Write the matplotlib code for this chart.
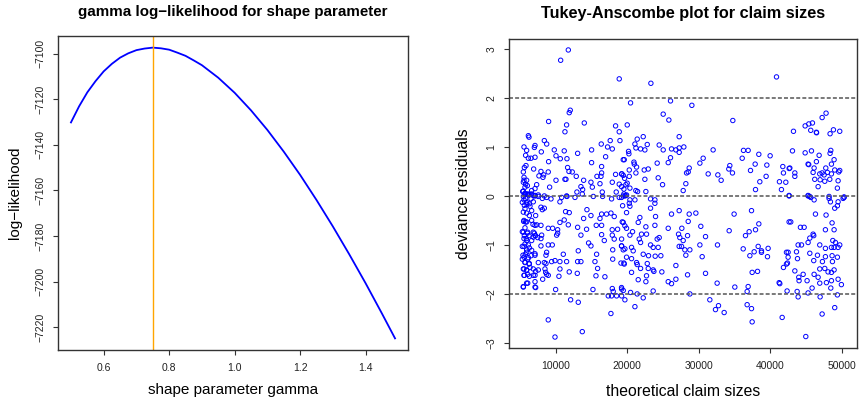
import matplotlib
matplotlib.use("Agg")
import matplotlib.pyplot as plt

plt.rcParams['font.family'] = ['Liberation Sans', 'DejaVu Sans']

# profile log-likelihood of the gamma shape parameter
shape_grid = [0.50, 0.525, 0.55, 0.575, 0.60, 0.625, 0.65, 0.675, 0.70, 0.725, 0.75,
              0.775, 0.80, 0.825, 0.85, 0.875, 0.90, 0.95, 1.00, 1.05, 1.10, 1.15,
              1.20, 1.25, 1.30, 1.35, 1.40, 1.45, 1.49]
loglik = [-7130.2, -7123.1, -7117.0, -7112.1, -7107.8, -7104.5, -7101.8, -7099.9,
          -7098.5, -7097.8, -7097.4, -7097.7, -7098.3, -7099.6, -7101.0, -7103.0,
          -7105.1, -7110.6, -7117.2, -7124.9, -7133.5, -7143.0, -7153.2, -7164.2,
          -7175.8, -7188.0, -7200.7, -7214.0, -7224.9]
shape_mle = 0.75

# Tukey-Anscombe points: fitted claim size, deviance residual
claim_pts = [
    (11770, 2.99), (10700, 2.78), (18880, 2.40), (12040, 1.76), (11900, 1.71), (9020, 1.53),
    (14000, 1.50), (11530, 1.46), (11300, 1.32), (18370, 1.44), (18880, 1.32), (6190, 1.24),
    (6280, 1.21), (8420, 1.14), (8750, 1.07), (7120, 1.04), (7030, 1.00), (5580, 1.01),
    (5950, 0.94), (8000, 0.91), (9810, 0.95), (11200, 0.93), (13070, 0.88), (15020, 0.95),
    (16370, 1.07), (17620, 1.14), (17250, 1.01), (17910, 0.97), (18980, 1.14), (16980, 0.81),
    (10050, 0.83), (5810, 0.84), (7120, 0.80), (6190, 0.78), (6560, 0.78), (10650, 0.77),
    (11580, 0.77), (9020, 0.71), (15020, 0.69), (19440, 0.75), (5860, 0.63), (5630, 0.59),
    (6930, 0.56), (11670, 0.59), (11860, 0.51), (12320, 0.50), (7950, 0.51), (8970, 0.50),
    (16420, 0.61), (16420, 0.48), (18370, 0.45), (19210, 0.46), (5490, 0.50), (8330, 0.44),
    (8230, 0.39), (11300, 0.35), (11440, 0.35), (12880, 0.41), (10050, 0.33), (13910, 0.33),
    (15770, 0.41), (16330, 0.41), (5580, 0.33), (5810, 0.25), (7350, 0.24), (7670, 0.42),
    (14930, 0.29), (16190, 0.26), (17910, 0.29), (18880, 0.25), (19440, 0.43), (13530, 0.20),
    (13770, 0.14), (15120, 0.19), (16510, 0.09), (12970, 0.09), (18460, 0.09), (9160, 0.19),
    (7120, 0.16), (6650, 0.12), (5400, 0.10), (5700, 0.06), (6100, 0.05), (6400, 0.04),
    (11530, 0.01), (7580, 0.03), (8420, 0.01),
    (23300, 2.31), (20460, 1.91), (26040, 1.95), (29020, 1.86), (25020, 1.68), (25810, 1.56),
    (34740, 1.55), (20000, 1.46), (27250, 1.22), (22230, 1.22), (21390, 1.17), (21070, 1.07),
    (22790, 1.06), (24460, 1.05), (21210, 0.99), (21860, 0.97), (22460, 0.95), (25020, 0.95),
    (26180, 0.97), (26790, 0.95), (27250, 0.99), (27900, 1.01), (31990, 0.95), (27250, 0.90),
    (20180, 0.92), (20230, 0.87), (19580, 0.75), (26040, 0.79), (20930, 0.70), (20980, 0.66),
    (21300, 0.60), (24180, 0.68), (25720, 0.69), (30600, 0.78), (30140, 0.68), (20280, 0.54),
    (22930, 0.56), (22370, 0.54), (28650, 0.58), (28510, 0.50), (28280, 0.48), (21210, 0.48),
    (34320, 0.63), (34180, 0.56), (34690, 0.48), (31300, 0.46), (32650, 0.44), (33110, 0.33),
    (19250, 0.46), (20280, 0.41), (19630, 0.37), (22460, 0.35), (24320, 0.38), (28180, 0.26),
    (24930, 0.24), (19990, 0.27), (19810, 0.24), (19200, 0.20), (20370, 0.17), (19530, 0.15),
    (27810, 0.12), (21440, 0.10), (22600, 0.10), (19900, 0.03), (19670, 0.01), (21200, 0.12),
    (40840, 2.44), (47760, 1.70), (47210, 1.61), (45860, 1.50), (45350, 1.48), (44840, 1.44),
    (43210, 1.33), (45620, 1.35), (46410, 1.31), (46430, 1.30), (48790, 1.36), (49670, 1.33),
    (48320, 1.28), (36230, 0.94), (36880, 0.94), (36050, 0.78), (38370, 0.86), (39950, 0.83),
    (43070, 0.93), (44840, 0.89), (45720, 0.93), (46790, 0.84), (48420, 0.94), (48320, 0.88),
    (46410, 0.71), (48880, 0.75), (45250, 0.66), (45340, 0.65), (48510, 0.66), (37860, 0.66),
    (39490, 0.64), (41720, 0.61), (42700, 0.58), (42610, 0.57), (46090, 0.58), (47720, 0.58),
    (48970, 0.54), (49670, 0.53), (37210, 0.53), (41810, 0.48), (43400, 0.48), (43400, 0.41),
    (45950, 0.49), (46880, 0.46), (47210, 0.48), (47490, 0.44), (47950, 0.49), (48510, 0.46),
    (49530, 0.50), (39390, 0.41), (46180, 0.35), (46930, 0.34), (47580, 0.31), (48280, 0.35),
    (41250, 0.30), (42140, 0.29), (38510, 0.30), (49440, 0.32), (46650, 0.20), (41530, 0.14),
    (37910, 0.14), (49340, 0.17), (42600, 0.02), (45250, 0.02), (45480, 0.00), (48180, 0.00),
    (50270, -0.01),
    (5720, 0.05), (5490, 0.00), (5810, -0.04), (6190, 0.03), (6560, -0.05), (7120, 0.01),
    (7580, 0.00), (8140, -0.04), (8740, -0.02), (9350, -0.05), (10840, -0.02), (11580, 0.00),
    (12700, -0.02), (13720, 0.05), (15260, 0.00), (16560, 0.00), (17810, -0.05), (18880, -0.02),
    (19440, 0.01), (5350, -0.12), (5630, -0.18), (6000, -0.16), (6420, -0.20), (6880, -0.11),
    (6650, -0.29), (7950, -0.22), (8420, -0.24), (8140, -0.27), (7210, -0.39), (10600, -0.11),
    (11390, -0.31), (11900, -0.33), (14370, -0.27), (13910, -0.45), (14930, -0.39), (16420, -0.36),
    (17110, -0.36), (17720, -0.34), (18180, -0.41), (16190, -0.45), (11200, -0.48), (10600, -0.53),
    (11770, -0.58), (5540, -0.51), (5810, -0.52), (6840, -0.57), (7350, -0.58), (7950, -0.59),
    (8970, -0.65), (9580, -0.65), (10280, -0.68), (10280, -0.75), (10140, -0.79), (13070, -0.63),
    (14320, -0.67), (15670, -0.59), (16420, -0.59), (17900, -0.68), (18650, -0.67), (19300, -0.52),
    (13530, -0.79), (16420, -0.78), (17910, -0.79), (18180, -0.87), (19210, -0.87), (16790, -0.90),
    (5350, -0.72), (5630, -0.80), (5910, -0.86), (6280, -0.80), (6100, -0.73), (7030, -0.75),
    (7210, -0.80), (7490, -0.84), (8050, -0.79), (7950, -0.86), (8970, -0.99), (9530, -0.99),
    (7950, -1.01), (5350, -1.02), (5720, -0.97), (6190, -0.99), (5950, -1.09), (14600, -0.95),
    (14930, -1.01), (13160, -1.11), (15720, -1.18), (17970, -1.09), (19210, -1.01), (19440, -1.09),
    (8740, -1.14), (8650, -1.20), (11070, -1.18), (5440, -1.20), (5770, -1.18), (6560, -1.21),
    (7120, -1.20), (5350, -1.28), (6100, -1.28), (5720, -1.35), (6280, -1.38), (7580, -1.35),
    (8420, -1.35), (8650, -1.37), (9440, -1.33), (9910, -1.31), (10600, -1.33), (11530, -1.33),
    (13070, -1.33), (13530, -1.33), (15490, -1.33), (17970, -1.28), (19120, -1.36), (19580, -1.38),
    (5490, -1.48), (5950, -1.50), (6420, -1.45), (7210, -1.53), (7580, -1.50), (8510, -1.48),
    (8610, -1.55), (10600, -1.48), (11900, -1.54), (13020, -1.57), (15860, -1.47), (5630, -1.61),
    (6100, -1.59), (6880, -1.61), (8190, -1.69), (8970, -1.61), (8740, -1.59), (10460, -1.63),
    (15630, -1.62), (16880, -1.64), (7120, -1.74), (6100, -1.77), (5490, -1.84), (7210, -1.86),
    (10000, -1.90), (15210, -1.90), (17910, -1.88), (18040, -1.94), (19210, -1.89), (17350, -2.03),
    (17810, -2.03), (18510, -2.03), (19210, -2.03), (12090, -2.11), (13160, -2.16), (17720, -2.39),
    (8970, -2.52), (13720, -2.76), (9910, -2.87),
    (19200, -0.02), (19530, 0.05), (19810, 0.02), (20370, -0.07), (21070, -0.07), (23250, -0.05),
    (23860, -0.07), (23860, -0.14), (23250, -0.24), (20280, -0.14), (20370, -0.20), (19350, -0.19),
    (19900, -0.33), (26180, -0.36), (27250, -0.29), (28650, -0.36), (29580, -0.34), (28510, -0.51),
    (34920, -0.36), (21760, -0.43), (21530, -0.53), (23950, -0.41), (22600, -0.62), (23860, -0.59),
    (25720, -0.65), (27620, -0.65), (30270, -0.61), (19440, -0.53), (19670, -0.60), (19900, -0.65),
    (20740, -0.72), (20370, -0.79), (21990, -0.77), (22690, -0.77), (21670, -0.87), (21860, -0.94),
    (24460, -0.84), (24180, -0.87), (27160, -0.77), (27340, -0.84), (27810, -0.90), (28420, -0.80),
    (30930, -0.82), (34230, -0.70), (30140, -0.99), (32600, -0.99), (19200, -1.01), (19670, -1.07),
    (20600, -1.04), (20830, -1.11), (23250, -0.99), (23620, -1.04), (24320, -1.04), (27250, -1.02),
    (27580, -1.02), (28040, -1.09), (28740, -1.09), (22230, -1.18), (22970, -1.21), (23900, -1.22),
    (24690, -1.21), (30460, -1.23), (28180, -1.20), (19900, -1.24), (20600, -1.27), (19530, -1.36),
    (21300, -1.35), (21390, -1.39), (22790, -1.37), (26790, -1.41), (21860, -1.47), (22930, -1.47),
    (23620, -1.50), (23720, -1.53), (24830, -1.54), (20600, -1.55), (22690, -1.62), (28420, -1.60),
    (30930, -1.57), (21530, -1.70), (22600, -1.74), (25720, -1.74), (26180, -1.78), (26790, -1.69),
    (32550, -1.77), (35020, -1.85), (19200, -1.86), (19440, -1.92), (23620, -1.93), (20460, -1.96),
    (21390, -1.99), (22230, -2.07), (19670, -2.11), (28740, -1.99), (31530, -2.11), (32740, -2.23),
    (32320, -2.31), (33530, -2.37), (21070, -2.25),
    (42600, 0.01), (45250, 0.01), (45620, -0.02), (46090, -0.07), (48180, -0.04), (48370, -0.11),
    (49440, -0.11), (50140, -0.04), (50280, -0.02), (48970, -0.24), (49340, -0.19), (37350, -0.29),
    (46280, -0.36), (47760, -0.38), (38370, -0.56), (37910, -0.68), (37020, -0.72), (36510, -0.80),
    (42600, -0.52), (42830, -0.52), (44180, -0.63), (44700, -0.63), (48600, -0.54), (47670, -0.68),
    (48880, -0.68), (45950, -0.77), (46040, -0.80), (45490, -0.85), (45250, -0.94), (48700, -0.90),
    (49070, -0.94), (46880, -0.99), (49670, -0.99), (49440, -1.04), (43860, -0.99), (44330, -0.99),
    (47670, -1.06), (48510, -1.04), (48880, -1.04), (36190, -1.07), (38280, -1.02), (37720, -1.13),
    (37120, -1.21), (38740, -1.11), (38740, -1.14), (39670, -1.06), (39580, -1.23), (42230, -1.14),
    (42460, -1.14), (43630, -1.13), (45490, -1.16), (46560, -1.20), (47670, -1.23), (48600, -1.21),
    (49340, -1.24), (42460, -1.24), (43770, -1.27), (46040, -1.31), (47250, -1.33), (48650, -1.33),
    (42230, -1.38), (42370, -1.36), (41810, -1.45), (43400, -1.52), (44560, -1.59), (46090, -1.59),
    (46880, -1.48), (47580, -1.47), (48040, -1.54), (48880, -1.50), (48510, -1.55), (37440, -1.55),
    (38190, -1.53), (41210, -1.76), (41300, -1.78), (43950, -1.65), (43990, -1.72), (45110, -1.72),
    (46650, -1.65), (46880, -1.77), (47810, -1.76), (48510, -1.72), (49440, -1.69), (49900, -1.80),
    (45810, -1.87), (36880, -1.84), (36740, -1.94), (42320, -1.93), (43720, -1.94), (43860, -2.05),
    (45250, -1.97), (46930, -2.05), (48420, -1.87), (49340, -2.01), (36740, -2.21), (37350, -2.29),
    (37440, -2.56), (41630, -2.47), (47210, -2.40), (48970, -2.27), (44930, -2.86),
    (5580, 0.39), (5490, 0.29), (5950, 0.33), (5720, 0.19), (6050, 0.22), (5490, 0.11),
    (5860, 0.05), (6190, 0.04), (6650, 0.05), (6880, 0.02), (7120, 0.02), (5580, -0.07),
    (5950, -0.12), (6330, -0.15), (5720, -0.25), (5490, -0.32), (5950, -0.34), (6330, -0.39),
    (5580, -0.49), (5950, -0.52), (6650, -0.49), (7120, -0.59), (5720, -0.64), (5490, -0.73),
    (6050, -0.75), (6880, -0.73), (7120, -0.80), (5580, -0.86), (5950, -0.90), (6650, -0.90),
    (6880, -0.83), (5580, -1.02), (6330, -1.05), (5950, -1.14), (6650, -1.10), (7120, -1.17),
    (5580, -1.24), (6190, -1.25), (5720, -1.34), (6330, -1.37), (5580, -1.48), (5950, -1.51),
    (6880, -1.48), (5580, -1.61), (6330, -1.63), (7120, -1.61), (5490, -1.85), (5950, -1.77),
    (7120, -1.85),
]
claim_fit = [p[0] for p in claim_pts]
dev_resid = [p[1] for p in claim_pts]
ref_levels = [-2, 0, 2]

fig = plt.figure(figsize=(8.59, 4.05), dpi=100)
ax1 = fig.add_axes([58 / 859, 55 / 405, 350 / 859, 314 / 405])
ax2 = fig.add_axes([509.3 / 859, 56.7 / 405, 347.2 / 859, 309.6 / 405])

for ax in (ax1, ax2):
    for sp in ax.spines.values():
        sp.set_color('#333333')
        sp.set_linewidth(1.0)
    ax.tick_params(direction='out', length=3.6, width=0.8, color='#333333',
                   labelsize=7.5, labelcolor='#222222', pad=5.5)
    ax.tick_params(axis='y', labelrotation=90)

# left panel: log-likelihood curve
ax1.plot(shape_grid, loglik, color='blue', lw=1.3)
ax1.axvline(shape_mle, color='orange', lw=1.0)
ax1.set_xlim(0.4604, 1.5296)
ax1.set_ylim(-7230.0, -7092.3)
ax1.set_xticks([0.6, 0.8, 1.0, 1.2, 1.4])
ax1.set_xticklabels(['0.6', '0.8', '1.0', '1.2', '1.4'])
ax1.set_yticks([-7100, -7120, -7140, -7160, -7180, -7200, -7220])
ax1.set_xlabel('shape parameter gamma', fontsize=11)
ax1.set_ylabel('log\u2212likelihood', fontsize=11)
ax1.xaxis.set_label_coords(0.5, -0.127)
ax1.yaxis.set_label_coords(-0.123, 0.5)
ax1.text(0.5, 1.076, 'gamma log\u2212likelihood for shape parameter', transform=ax1.transAxes,
         ha='center', va='center', fontsize=10.9, fontweight='bold')

# right panel: Tukey-Anscombe plot
ax2.scatter(claim_fit, dev_resid, s=10, facecolors='none', edgecolors='blue', linewidths=0.7)
for lev in ref_levels:
    ax2.axhline(lev, color='#555555', lw=1.1, ls=(0, (2.6, 1.4)))
ax2.set_xlim(3530, 52010)
ax2.set_ylim(-3.10, 3.22)
ax2.set_xticks([10000, 20000, 30000, 40000, 50000])
ax2.set_xticklabels(['10000', '20000', '30000', '40000', '50000'])
ax2.set_yticks([-3, -2, -1, 0, 1, 2, 3])
ax2.set_xlabel('theoretical claim sizes', fontsize=11.3)
ax2.set_ylabel('deviance residuals', fontsize=11.3)
ax2.xaxis.set_label_coords(0.5, -0.141)
ax2.yaxis.set_label_coords(-0.133, 0.5)
ax2.text(0.5, 1.08, 'Tukey-Anscombe plot for claim sizes', transform=ax2.transAxes,
         ha='center', va='center', fontsize=11.7, fontweight='bold')

for ax in (ax1, ax2):
    ax.xaxis.label.set_va('center')
    ax.yaxis.label.set_va('center')
    for lbl in ax.get_yticklabels():
        lbl.set_va('center')

fig.savefig('out.png', dpi=100)
